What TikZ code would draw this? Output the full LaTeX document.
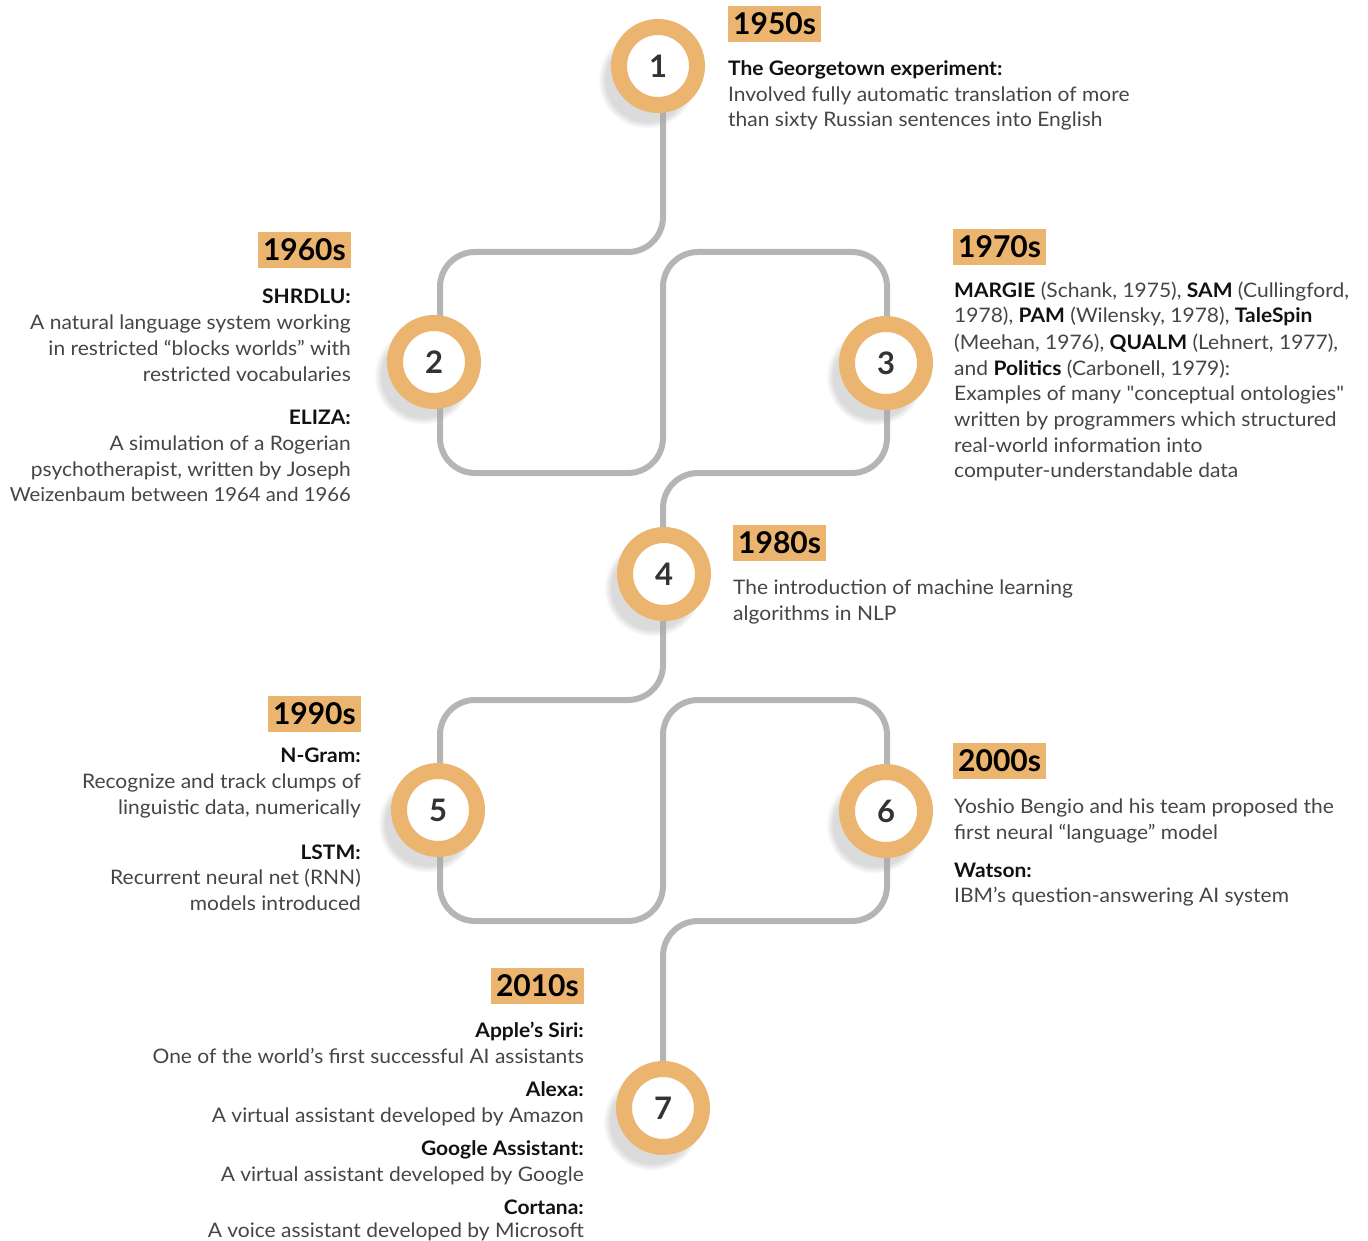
\documentclass[tikz,border=0pt]{standalone}
\usepackage{fontspec}
\setmainfont{Lato}[FakeStretch=1.05]
\newfontfamily\yearfont{Lato}
\usetikzlibrary{shadows,fadings}
\definecolor{ringc}{HTML}{EBB56F}
\definecolor{trackc}{HTML}{B5B5B5}
\definecolor{bodyc}{HTML}{454545}
\definecolor{numc}{HTML}{333333}
\definecolor{headc}{HTML}{111111}
\tikzset{
  ring/.style={circle, draw=ringc, line width=16pt, fill=white, minimum size=78pt, inner sep=0pt,
    font=\yearfont\fontsize{31}{31}\selectfont\bfseries, text=numc,
    circular drop shadow={shadow xshift=-9pt, shadow yshift=-11pt, shadow scale=1.25, opacity=0.4, fill=black!35}},
  track/.style={draw=trackc, line width=6pt, rounded corners=35pt},
  yearbox/.style={fill=ringc, inner xsep=5pt, inner ysep=0pt, minimum height=36pt, text=black,
    font=\yearfont\fontsize{30}{30}\selectfont\bfseries},
  lt/.style={anchor=base west, inner sep=0pt, text=bodyc, font=\fontsize{20}{24}\selectfont},
  rt/.style={anchor=base east, inner sep=0pt, text=bodyc, font=\fontsize{20}{24}\selectfont},
  lh/.style={anchor=base west, inner sep=0pt, text=headc, font=\fontsize{20}{24}\selectfont\bfseries},
  rh/.style={anchor=base east, inner sep=0pt, text=headc, font=\fontsize{20}{24}\selectfont\bfseries},
}
\newcommand{\bb}[1]{{\bfseries\color{headc}#1}}
\newcommand{\sq}{{\addfontfeatures{Ligatures=TeXOff}"}}
\begin{document}
\begin{tikzpicture}[x=1pt,y=-1pt]
\useasboundingbox (0,0) rectangle (1368,1241);
% track coordinates
\coordinate (s1) at (663,66);
\coordinate (s4) at (663,574);
\coordinate (s7) at (663,1108);
\draw[track] (s1) -- (663,252) -- (440,252) -- (440,473) -- (663,473) -- (663,252)
  -- (887,252) -- (887,473) -- (663,473) -- (s4);
\draw[track] (s4) -- (663,700) -- (440,700) -- (440,921) -- (663,921) -- (663,700)
  -- (887,700) -- (887,921) -- (663,921) -- (s7);
% rings
\node[ring] (c1) at (658,66) {1};
\node[ring] (c2) at (434,362) {2};
\node[ring] (c3) at (886,363) {3};
\node[ring] (c4) at (664,574) {4};
\node[ring] (c5) at (438,810) {5};
\node[ring] (c6) at (886,811) {6};
\node[ring] (c7) at (663,1108) {7};
% 1950s
\node[yearbox, anchor=west] (y1) at (728,24) {1950s};
\node[lh] (a1) at (728,76) {The Georgetown experiment:};
\node[lt] (a2) at (728,102) {Involved fully automatic translation of more};
\node[lt] (a3) at (728,127) {than sixty Russian sentences into English};
% 1960s
\node[yearbox, anchor=east] (y2) at (351,250) {1960s};
\node[rh] (b1) at (351,304) {SHRDLU:};
\node[rt] (b2) at (351,330) {A natural language system working};
\node[rt] (b3) at (351,355) {in restricted “blocks worlds” with};
\node[rt] (b4) at (351,381) {restricted vocabularies};
\node[rh] (b5) at (351,424) {ELIZA:};
\node[rt] (b6) at (351,450) {A simulation of a Rogerian};
\node[rt] (b7) at (351,476) {psychotherapist, written by Joseph};
\node[rt, font=\fontsize{19.3}{24}\selectfont] (b8) at (351,501) {Weizenbaum between 1964 and 1966};
% 1970s
\node[yearbox, anchor=west] (y3) at (953,247) {1970s};
\node[lt] (d1) at (954,298) {\bb{MARGIE} (Schank, 1975), \bb{SAM} (Cullingford,};
\node[lt] (d2) at (954,323) {1978), \bb{PAM} (Wilensky, 1978), \bb{TaleSpin}};
\node[lt] (d3) at (954,349) {(Meehan, 1976), \bb{QUALM} (Lehnert, 1977),};
\node[lt] (d4) at (954,375) {and \bb{Politics} (Carbonell, 1979):};
\node[lt] (d5) at (954,400) {Examples of many \sq conceptual ontologies\sq};
\node[lt] (d6) at (954,426) {written by programmers which structured};
\node[lt] (d7) at (954,452) {real-world information into};
\node[lt] (d8) at (954,477) {computer-understandable data};
% 1980s
\node[yearbox, anchor=west] (y4) at (733,543) {1980s};
\node[lt] (e1) at (733,594) {The introduction of machine learning};
\node[lt] (e2) at (733,620) {algorithms in NLP};
% 1990s
\node[yearbox, anchor=east] (y5) at (361,714) {1990s};
\node[rh] (f1) at (361,762) {N-Gram:};
\node[rt] (f2) at (361,788) {Recognize and track clumps of};
\node[rt] (f3) at (361,814) {linguistic data, numerically};
\node[rh] (f4) at (361,859) {LSTM:};
\node[rt] (f5) at (361,884) {Recurrent neural net (RNN)};
\node[rt] (f6) at (361,910) {models introduced};
% 2000s
\node[yearbox, anchor=west] (y6) at (953,761) {2000s};
\node[lt] (g1) at (954,813) {Yoshio Bengio and his team proposed the};
\node[lt] (g2) at (954,839) {first neural “language” model};
\node[lh] (g3) at (954,877) {Watson:};
\node[lt] (g4) at (954,902) {IBM’s question-answering AI system};
% 2010s
\node[yearbox, anchor=east] (y7) at (584,986) {2010s};
\node[rh] (h1) at (584,1037) {Apple’s Siri:};
\node[rt] (h2) at (584,1063) {One of the world’s first successful AI assistants};
\node[rh] (h3) at (584,1096) {Alexa:};
\node[rt] (h4) at (584,1122) {A virtual assistant developed by Amazon};
\node[rh] (h5) at (584,1155) {Google Assistant:};
\node[rt] (h6) at (584,1181) {A virtual assistant developed by Google};
\node[rh] (h7) at (584,1214) {Cortana:};
\node[rt] (h8) at (584,1237) {A voice assistant developed by Microsoft};
\end{tikzpicture}
\end{document}
